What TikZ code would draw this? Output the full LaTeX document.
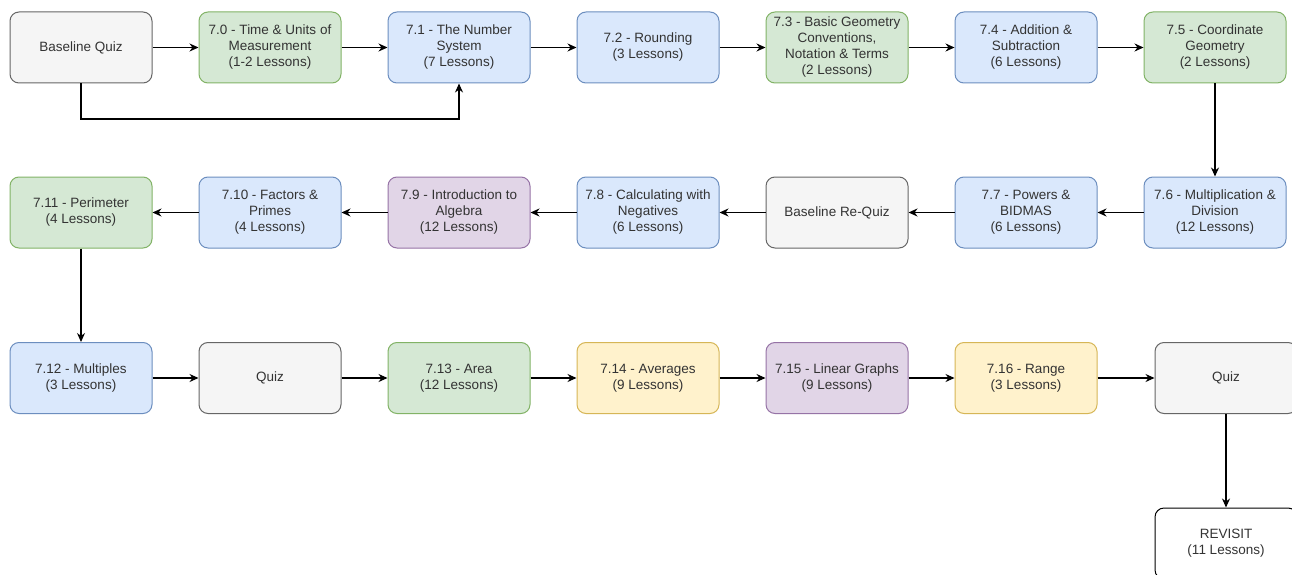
\documentclass[tikz,border=0pt]{standalone}
\usepackage{fontspec}
\setmainfont{Liberation Sans}
\usetikzlibrary{arrows.meta}
\definecolor{grayF}{HTML}{F5F5F5}\definecolor{grayD}{HTML}{666666}
\definecolor{greenF}{HTML}{D5E8D4}\definecolor{greenD}{HTML}{82B366}
\definecolor{blueF}{HTML}{DAE8FC}\definecolor{blueD}{HTML}{6C8EBF}
\definecolor{purpF}{HTML}{E1D5E7}\definecolor{purpD}{HTML}{9673A6}
\definecolor{yellF}{HTML}{FFF2CC}\definecolor{yellD}{HTML}{D6B656}
\definecolor{txtG}{HTML}{333333}
\tikzset{
  box/.style={rounded corners=9pt, line width=1pt, minimum width=142pt, minimum height=71pt,
    align=center, inner sep=1pt, font=\fontsize{13.5}{16}\selectfont, text=txtG},
  gbox/.style={box, fill=grayF, draw=grayD},
  grbox/.style={box, fill=greenF, draw=greenD},
  bbox/.style={box, fill=blueF, draw=blueD},
  pbox/.style={box, fill=purpF, draw=purpD},
  ybox/.style={box, fill=yellF, draw=yellD},
  wbox/.style={box, fill=white, draw=black},
  arr/.style={line width=1.2pt, draw=black, -{Stealth[length=9pt,width=8pt]}},
}
\begin{document}
\begin{tikzpicture}[x=1pt,y=-1pt]
\clip (0,0) rectangle (1292,575);
\fill[white] (0,0) rectangle (1292,575);
% row 1
\node[gbox]  (bq)  at (81,47.5)   {Baseline Quiz};
\node[grbox] (n70) at (270,47.5)  {7.0 - Time \& Units of\\Measurement\\(1-2 Lessons)};
\node[bbox]  (n71) at (459,47.5)  {7.1 - The Number\\System\\(7 Lessons)};
\node[bbox]  (n72) at (648,47.5)  {7.2 - Rounding\\(3 Lessons)};
\node[grbox] (n73) at (837,47.5)  {7.3 - Basic Geometry\\Conventions,\\Notation \& Terms\\(2 Lessons)};
\node[bbox]  (n74) at (1026,47.5) {7.4 - Addition \&\\Subtraction\\(6 Lessons)};
\node[grbox] (n75) at (1215,47.5) {7.5 - Coordinate\\Geometry\\(2 Lessons)};
% row 2
\node[bbox]  (n76) at (1215,212.5) {7.6 - Multiplication \&\\Division\\(12 Lessons)};
\node[bbox]  (n77) at (1026,212.5) {7.7 - Powers \&\\BIDMAS\\(6 Lessons)};
\node[gbox]  (brq) at (837,212.5)  {Baseline Re-Quiz};
\node[bbox]  (n78) at (648,212.5)  {7.8 - Calculating with\\Negatives\\(6 Lessons)};
\node[pbox]  (n79) at (459,212.5)  {7.9 - Introduction to\\Algebra\\(12 Lessons)};
\node[bbox]  (n710) at (270,212.5) {7.10 - Factors \&\\Primes\\(4 Lessons)};
\node[grbox] (n711) at (81,212.5)  {7.11 - Perimeter\\(4 Lessons)};
% row 3
\node[bbox]  (n712) at (81,378)   {7.12 - Multiples\\(3 Lessons)};
\node[gbox]  (q1)   at (270,378)  {Quiz};
\node[grbox] (n713) at (459,378)  {7.13 - Area\\(12 Lessons)};
\node[ybox]  (n714) at (648,378)  {7.14 - Averages\\(9 Lessons)};
\node[pbox]  (n715) at (837,378)  {7.15 - Linear Graphs\\(9 Lessons)};
\node[ybox]  (n716) at (1026,378) {7.16 - Range\\(3 Lessons)};
\node[gbox]  (q2)   at (1226,378) {Quiz};
\node[wbox]  (rev)  at (1226,543.5) {REVISIT\\(11 Lessons)};
% connectors
\draw[arr] (bq) -- (n70);
\draw[arr] (n70) -- (n71);
\draw[arr] (n71) -- (n72);
\draw[arr] (n72) -- (n73);
\draw[arr] (n73) -- (n74);
\draw[arr] (n74) -- (n75);
\draw[arr] (bq.south) -- ++(0,35.5) -| (n71.south);
\draw[arr] (n75) -- (n76);
\draw[arr] (n76) -- (n77);
\draw[arr] (n77) -- (brq);
\draw[arr] (brq) -- (n78);
\draw[arr] (n78) -- (n79);
\draw[arr] (n79) -- (n710);
\draw[arr] (n710) -- (n711);
\draw[arr] (n711) -- (n712);
\draw[arr] (n712) -- (q1);
\draw[arr] (q1) -- (n713);
\draw[arr] (n713) -- (n714);
\draw[arr] (n714) -- (n715);
\draw[arr] (n715) -- (n716);
\draw[arr] (n716) -- (q2);
\draw[arr] (q2) -- (rev);
\end{tikzpicture}
\end{document}
